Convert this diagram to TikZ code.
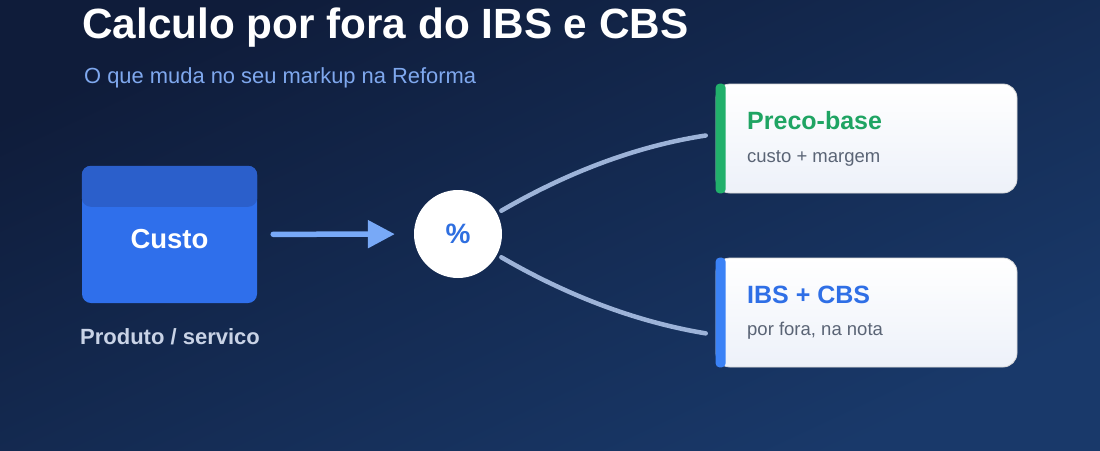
\documentclass[tikz,border=0pt]{standalone}
\usepackage{fontspec}
\setmainfont{Liberation Sans}
\usepackage{tikz}
\usetikzlibrary{arrows.meta,positioning,calc}
\definecolor{bgtop}{HTML}{0F1C3A}
\definecolor{bgbot}{HTML}{19396A}
\definecolor{subblue}{HTML}{7FA8EE}
\definecolor{custoblue}{HTML}{2F6FEB}
\definecolor{bandblue}{HTML}{2B5FCB}
\definecolor{labelgray}{HTML}{C9D3E6}
\definecolor{arrowblue}{HTML}{78A9F7}
\definecolor{linegray}{HTML}{9DB3D8}
\definecolor{pctblue}{HTML}{2F6FE0}
\definecolor{accgreen}{HTML}{21B06B}
\definecolor{txtgreen}{HTML}{1FA463}
\definecolor{accblue}{HTML}{3B82F6}
\definecolor{txtblue}{HTML}{2F6FE6}
\definecolor{txtgray}{HTML}{5A6475}
\definecolor{cardbot}{HTML}{EDF1F9}

\begin{document}
\begin{tikzpicture}[x=1pt,y=-1pt,
  card/.style={draw=black!15,line width=0.8pt,rounded corners=14pt,top color=white,
    bottom color=cardbot,minimum width=301pt,minimum height=109pt,inner sep=0pt},
  ctitle/.style={anchor=base west,font=\fontsize{25}{29}\selectfont\bfseries,inner sep=0pt},
  csub/.style={anchor=base west,font=\fontsize{18.5}{22}\selectfont,text=txtgray,inner sep=0pt},
  branch/.style={linegray,line width=4.5pt,line cap=round,shorten <=5pt,shorten >=10pt}
]
  \useasboundingbox (0,0) rectangle (1100,450);
  \shade[top color=bgtop,bottom color=bgbot,shading angle=25] (0,0) rectangle (1100,450);

  % title
  \node[anchor=base west,inner sep=0pt,text=white,font=\fontsize{42.3}{48}\selectfont\bfseries]
    (title) at (82,38) {Calculo por fora do IBS e CBS};
  \node[anchor=base west,inner sep=0pt,text=subblue,font=\fontsize{21.9}{26}\selectfont]
    (sub) at (84,83) {O que muda no seu markup na Reforma};

  % Custo
  \node[fill=custoblue,rounded corners=9pt,minimum width=175pt,minimum height=137pt,inner sep=0pt]
    (custo) at (169.5,234.5) {};
  \fill[bandblue,rounded corners=9pt] (custo.north west) rectangle ($(custo.north east)+(0,41)$);
  \node[text=white,font=\fontsize{27.5}{32}\selectfont\bfseries] (custolbl) at (169.5,239) {Custo};
  \node[text=labelgray,font=\fontsize{22}{26}\selectfont\bfseries] (prod) at (170,337) {Produto / servico};

  % percent
  \node[circle,fill=white,minimum size=88pt,inner sep=0pt,text=pctblue,
    font=\fontsize{28}{32}\selectfont\bfseries] (pct) at (458,234) {\%};
  \draw[arrowblue,line width=5.5pt,line cap=round,shorten <=16pt,shorten >=19pt,
    -{Triangle[length=27pt,width=27pt]}] (custo) -- (pct);

  % cards
  \node[card] (base) at (866.5,138.5) {};
  \fill[accgreen,rounded corners=4pt] (base.north west) rectangle ([xshift=10pt]base.south west);
  \node[ctitle,text=txtgreen] (basettl) at (747,129) {Preco-base};
  \node[csub] (basesub) at (747,162) {custo + margem};

  \node[card] (tax) at (866.5,312.5) {};
  \fill[accblue,rounded corners=4pt] (tax.north west) rectangle ([xshift=10pt]tax.south west);
  \node[ctitle,text=txtblue] (taxttl) at (747,303) {IBS + CBS};
  \node[csub] (taxsub) at (747,335) {por fora, na nota};

  % branches
  \draw[branch] (pct.28) .. controls (568,172) and (637,146) .. ([yshift=4.5pt]base.west);
  \draw[branch] (pct.-28) .. controls (568,296) and (637,322) .. ([yshift=-22.5pt]tax.west);
\end{tikzpicture}
\end{document}
